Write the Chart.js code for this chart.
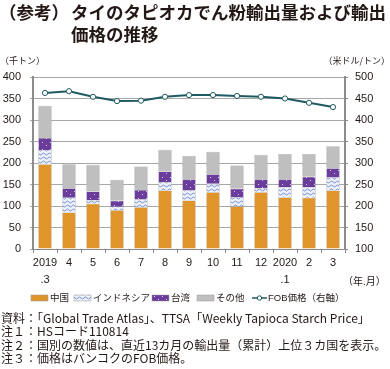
<!DOCTYPE html>
<html>
<head>
<meta charset="utf-8">
<script src="https://cdn.jsdelivr.net/npm/chart.js@4"></script>
<style>
  html, body { margin: 0; padding: 0; background: #fff; }
  #wrap { position: relative; width: 390px; height: 369px; }
</style>
</head>
<body>
<div id="wrap"><canvas id="chart" width="390" height="369"></canvas></div>
<script>
const months = [["2019", ".3"], "4", "5", "6", "7", "8", "9", "10", "11", "12", ["2020", ".1"], "2", "3"];
const china = [197, 85, 105, 90, 97, 136, 113, 132, 99, 132, 120, 119, 136];
const indonesia = [33, 34, 9, 8, 18, 20, 23, 20, 22, 9, 24, 25, 30];
const taiwan = [28, 22, 20, 14, 22, 24, 26, 22, 19, 21, 18, 24, 22];
const others = [75, 56, 62, 49, 55, 51, 54, 52, 54, 57, 59, 53, 51];
const fobPrice = [463, 467, 454, 444, 445, 454, 458, 458, 456, 454, 450, 440, 430];

const FONT = '"Liberation Sans", "Noto Sans CJK JP", sans-serif';
const JP = '"Noto Sans CJK JP", sans-serif';
const TEXT = "#231815";
const ORANGE = "#e0952b";
const PURPLE = "#6a3d9c";
const GRAY = "#bfbfbf";
const LINE = "#1e5a62";

function wavePattern() {
    const c = document.createElement("canvas");
    c.width = 6; c.height = 4;
    const g = c.getContext("2d");
    g.fillStyle = "#eef1fa";
    g.fillRect(0, 0, 6, 4);
    g.strokeStyle = "#7890cf";
    g.lineWidth = 1;
    g.beginPath();
    g.moveTo(0, 2); g.lineTo(1.5, 1); g.lineTo(3, 2); g.lineTo(4.5, 3); g.lineTo(6, 2);
    g.stroke();
    return g.createPattern(c, "repeat");
}

function dotPattern() {
    const c = document.createElement("canvas");
    c.width = 8; c.height = 7;
    const g = c.getContext("2d");
    g.fillStyle = PURPLE;
    g.fillRect(0, 0, 8, 7);
    g.fillStyle = "#d8cce8";
    g.fillRect(2, 2, 1, 1);
    g.fillRect(6, 5, 1, 1);
    return g.createPattern(c, "repeat");
}

const wave = wavePattern();
const dots = dotPattern();

const legendItems = [
    { label: "中国", fill: ORANGE, x: 31 },
    { label: "インドネシア", fill: wave, x: 74 },
    { label: "台湾", fill: dots, x: 152 },
    { label: "その他", fill: GRAY, x: 197 },
    { label: "FOB価格（右軸）", line: true, x: 252 }
];

const notes = [
    "資料：「Global Trade Atlas」、TTSA「Weekly Tapioca Starch Price」",
    "注１：HSコード110814",
    "注２：国別の数値は、直近13カ月の輸出量（累計）上位３カ国を表示。",
    "注３：価格はバンコクのFOB価格。"
];

const decor = {
    id: "decor",
    afterDraw(chart) {
        const ctx = chart.ctx;
        ctx.save();
        ctx.fillStyle = TEXT;
        ctx.textBaseline = "middle";
        ctx.textAlign = "left";

        ctx.font = "bold 17.5px " + JP;
        ctx.fillText("（参考）", -1, 12);
        ctx.fillText("タイのタピオカでん粉輸出量および輸出", 71, 12);
        ctx.fillText("価格の推移", 71, 34);

        ctx.font = "9px " + JP;
        ctx.fillText("（千トン）", 0, 61);
        ctx.textAlign = "right";
        ctx.fillText("（米ドル/トン）", 390, 61);
        ctx.textAlign = "left";
        ctx.font = "10px " + JP;
        ctx.fillText("（年.月）", 343, 281);

        ctx.font = "9.5px " + FONT;
        const ly = 298;
        legendItems.forEach((it) => {
            if (it.line) {
                ctx.strokeStyle = LINE;
                ctx.lineWidth = 1.5;
                ctx.beginPath();
                ctx.moveTo(it.x, ly);
                ctx.lineTo(it.x + 15, ly);
                ctx.stroke();
                ctx.fillStyle = "#fff";
                ctx.beginPath();
                ctx.arc(it.x + 7.5, ly, 2.2, 0, Math.PI * 2);
                ctx.fill();
                ctx.lineWidth = 1;
                ctx.stroke();
                ctx.fillStyle = TEXT;
                ctx.fillText(it.label, it.x + 16, ly);
            } else {
                ctx.fillStyle = it.fill;
                ctx.fillRect(it.x, ly - 3, 17, 6);
                ctx.strokeStyle = "#999";
                ctx.lineWidth = 0.5;
                ctx.strokeRect(it.x, ly - 3, 17, 6);
                ctx.fillStyle = TEXT;
                ctx.fillText(it.label, it.x + 19, ly);
            }
        });

        ctx.font = "12px " + JP;
        notes.forEach((t, i) => ctx.fillText(t, 1, 318 + i * 13.5));
        ctx.restore();
    }
};

const barCommon = { stack: "vol", yAxisID: "y", barPercentage: 0.56, categoryPercentage: 1, borderColor: "#9a9a9a", borderWidth: 0.5 };

new Chart(document.getElementById("chart"), {
    type: "bar",
    data: {
        labels: months,
        datasets: [
            { type: "line", label: "FOB価格（右軸）", data: fobPrice, yAxisID: "y1", order: 0,
              borderColor: LINE, borderWidth: 2, pointRadius: 2.6, pointBackgroundColor: "#fff",
              pointBorderColor: LINE, pointBorderWidth: 1, tension: 0 },
            { label: "中国", data: china, backgroundColor: ORANGE, order: 1, ...barCommon },
            { label: "インドネシア", data: indonesia, backgroundColor: wave, order: 1, ...barCommon },
            { label: "台湾", data: taiwan, backgroundColor: dots, order: 1, ...barCommon },
            { label: "その他", data: others, backgroundColor: GRAY, order: 1, ...barCommon }
        ]
    },
    options: {
        responsive: false,
        animation: false,
        layout: { padding: { top: 77, bottom: 80, left: 0, right: 0 } },
        plugins: { legend: { display: false }, tooltip: { enabled: false } },
        scales: {
            x: {
                stacked: true,
                offset: true,
                grid: { offset: true, drawOnChartArea: false, color: "#888", tickLength: 4 },
                border: { color: "#888", width: 1 },
                ticks: { color: TEXT, font: { family: FONT, size: 11, lineHeight: 1.5 }, padding: 2, maxRotation: 0, autoSkip: false },
                afterFit(scale) { scale.height = 40; }
            },
            y: {
                stacked: true,
                min: 0, max: 400,
                ticks: { stepSize: 50, color: TEXT, font: { family: FONT, size: 11 }, padding: 9 },
                grid: { color: "#a8a8a8", tickLength: 3 },
                border: { color: "#8c8c8c", width: 2 },
                afterFit(scale) { scale.width = 33; }
            },
            y1: {
                position: "right",
                min: 100, max: 500,
                ticks: { stepSize: 50, color: TEXT, font: { family: FONT, size: 11 }, padding: 7 },
                grid: { drawOnChartArea: false, color: "#8c8c8c", tickLength: 3 },
                border: { color: "#8c8c8c", width: 2 },
                afterFit(scale) { scale.width = 45; }
            }
        }
    },
    plugins: [decor]
});
</script>
</body>
</html>
